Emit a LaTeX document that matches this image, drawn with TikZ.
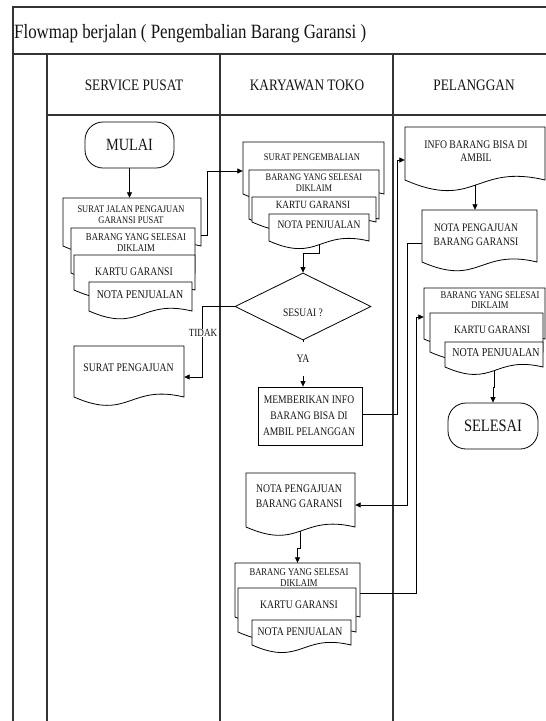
\documentclass[tikz,border=0pt]{standalone}
\usepackage{fontspec}
\usepackage{graphicx}
\setmainfont{Liberation Serif}
\usetikzlibrary{arrows.meta,shapes.geometric}

\tikzset{
  frame/.style={line width=1.1pt, draw=black!80},
  outline/.style={line width=0.8pt, draw=black, fill=white},
  conn/.style={line width=0.8pt, draw=black},
  arr/.style={conn, -{Triangle[length=5.5pt,width=5pt]}},
  txt/.style={inner sep=0pt, align=center, text=black!92, yscale=1.2},
  lbl/.style={txt, fill=white, inner xsep=1pt},
}

% font size / baselineskip in pt
\newcommand{\ffs}[2]{\fontsize{#1pt}{#2pt}\selectfont}

% document symbol: name, left, top, right, wave base
\newcommand{\docu}[5]{%
  \path[outline] (#2,#3) -- (#4,#3) -- (#4,#5)
    .. controls ({(#2+#4)/2},{#5-0.12*(#4-#2)}) and ({(#2+#4)/2},{#5+0.22*(#4-#2)}) .. (#2,#5) -- cycle;
  \node[inner sep=0pt, minimum width={(#4)-(#2)}, minimum height={(#5)-(#3)}] (#1) at ({(#2+#4)/2},{(#3+#5)/2}) {};
  \coordinate (#1-bot) at ({(#2+#4)/2},{#5+0.0375*(#4-#2)});
}

\begin{document}
\begin{tikzpicture}[x=1pt,y=-1pt]
\useasboundingbox (0,0) rectangle (546,721);
\fill[white] (0,0) rectangle (546,721);

% swimlane frame
\draw[frame] (546,7) -- (13,7) -- (13,721);
\draw[frame] (13,54) -- (546,54);
\draw[frame] (47,54) -- (47,721);
\draw[frame] (47,115) -- (546,115);
\draw[frame] (220,54) -- (220,721);
\draw[frame] (393,54) -- (393,721);

\node[txt, anchor=base west, font=\ffs{16.9}{20}] (title) at (14,38.5) {Flowmap berjalan ( Pengembalian Barang Garansi )};
\node[txt, font=\ffs{13.3}{16}] (lane1) at (134,85) {SERVICE PUSAT};
\node[txt, font=\ffs{13.3}{16}] (lane2) at (307,85) {KARYAWAN TOKO};
\node[txt, font=\ffs{13.3}{16}] (lane3) at (474,85) {PELANGGAN};

% terminators
\node[outline, rounded corners=18pt, minimum width=89pt, minimum height=46pt, inner sep=0pt, text=black!92]
  (mulai) at (129.5,145) {\ffs{14.3}{16}\scalebox{1}[1.2]{MULAI}};
\node[outline, rounded corners=18pt, minimum width=90pt, minimum height=46pt, inner sep=0pt, text=black!92]
  (sel) at (493,426) {\ffs{14.5}{16}\scalebox{1}[1.2]{SELESAI}};

% SERVICE PUSAT documents
\docu{sp1}{63}{198}{201}{246}
\docu{sp2}{71}{228}{195}{273}
\docu{sp3}{74}{255}{195}{290}
\docu{sp4}{89}{282}{192}{311}
\node[txt, font=\ffs{8.4}{9.2}] (sp1t) at (131,214.5) {SURAT JALAN PENGAJUAN\\GARANSI PUSAT};
\node[txt, font=\ffs{8.7}{9.2}] (sp2t) at (136,242.5) {BARANG YANG SELESAI\\DIKLAIM};
\node[txt, font=\ffs{9.6}{11}] (sp3t) at (134,272) {KARTU GARANSI};
\node[txt, font=\ffs{9.9}{11}] (sp4t) at (140,295) {NOTA PENJUALAN};

\docu{spj}{74}{346}{184}{397}
\node[txt, font=\ffs{9.7}{11}] (spjt) at (128.5,368) {SURAT PENGAJUAN};

% KARYAWAN TOKO documents
\docu{kt1}{243}{142}{384}{194}
\docu{kt2}{249}{170}{379}{219}
\docu{kt3}{252}{197}{376}{222}
\docu{kt4}{269}{214}{369}{241}
\node[txt, font=\ffs{8.5}{10}] (kt1t) at (312,157) {SURAT PENGEMBALIAN};
\node[txt, font=\ffs{8.4}{9.4}] (kt2t) at (314,182.7) {BARANG YANG SELESAI\\DIKLAIM};
\node[txt, font=\ffs{9.2}{11}] (kt3t) at (313,205) {KARTU GARANSI};
\node[txt, font=\ffs{9.5}{11}] (kt4t) at (319,225) {NOTA PENJUALAN};

\node[outline, diamond, minimum width=136pt, minimum height=67pt, inner sep=0pt] (dia) at (303,306.5) {};
\node[txt, font=\ffs{9.5}{11}] (diat) at (303,313) {SESUAI ?};

\node[outline, minimum width=104pt, minimum height=58pt, inner sep=0pt] (box) at (310,416) {};
\node[txt, font=\ffs{9.6}{13}] (boxt) at (309,415.8) {MEMBERIKAN INFO\\BARANG BISA DI\\AMBIL PELANGGAN};

\docu{knp}{246}{473}{355}{527}
\node[txt, font=\ffs{9.7}{12.5}] (knpt) at (299,496.5) {NOTA PENGAJUAN\\BARANG GARANSI};

\docu{kb1}{235}{563}{360}{617}
\docu{kb2}{238}{588}{356}{632}
\docu{kb3}{252}{620}{351}{645}
\node[txt, font=\ffs{8.6}{9.7}] (kb1t) at (299,577.5) {BARANG YANG SELESAI\\DIKLAIM};
\node[txt, font=\ffs{9.6}{11}] (kb2t) at (299,605) {KARTU GARANSI};
\node[txt, font=\ffs{9.7}{11}] (kb3t) at (300,632) {NOTA PENJUALAN};

% PELANGGAN documents
\docu{info}{405}{127}{545}{180}
\node[txt, font=\ffs{9.7}{10.8}] (infot) at (476,151.5) {INFO BARANG BISA DI\\AMBIL};

\docu{pnp}{422}{210}{537}{262}
\node[txt, font=\ffs{9.5}{11.4}] (pnpt) at (476,235) {NOTA PENGAJUAN\\BARANG GARANSI};

\docu{pl1}{424}{288}{545}{339}
\docu{pl2}{430}{313}{543}{352}
\docu{pl3}{445}{342}{543}{367}
\node[txt, font=\ffs{8.6}{8.4}] (pl1t) at (490,300) {BARANG YANG SELESAI\\DIKLAIM};
\node[txt, font=\ffs{9.4}{11}] (pl2t) at (492,330) {KARTU GARANSI};
\node[txt, font=\ffs{10}{11}] (pl3t) at (496,353) {NOTA PENJUALAN};

% flow
\draw[arr] (mulai.south) -- (mulai.south |- sp1.north);
\draw[arr] ([yshift=-13pt]sp1.east) -- ++(6,0) |- ([yshift=-3pt]kt1.west);
\draw[arr] (kt4-bot) -- ++(0,9) -| (dia.north);
\draw[arr] (dia.west) -- ++(-32,0) |- ([yshift=-5.5pt]spj.east);
\draw[arr] (dia.south) -- (dia.south |- box.north);
\draw[arr] ([yshift=2pt]box.east) -- ++(35,0) |- ([yshift=-6.5pt]info.west);
\draw[arr] (info-bot) -- (info-bot |- pnp.north);
\draw[arr] ([yshift=-7pt]pnp.west) -- ++(-14,0) |- ([yshift=-5pt]knp.east);
\draw[arr] (knp-bot) -- ++(0,17) -| (kb1.north);
\draw[arr] ([yshift=-3pt]kb1.east) -- ++(56,0) |- ([yshift=-3.5pt]pl1.west);
\draw[arr] (pl3-bot) -- ++(0,17) -| (sel.north);

% branch labels
\node[lbl, font=\ffs{9.1}{11}] (tidak) at (203,333) {TIDAK};
\node[lbl, font=\ffs{9.7}{11}, minimum height=28pt] (ya) at (303,359) {YA};
\end{tikzpicture}
\end{document}
